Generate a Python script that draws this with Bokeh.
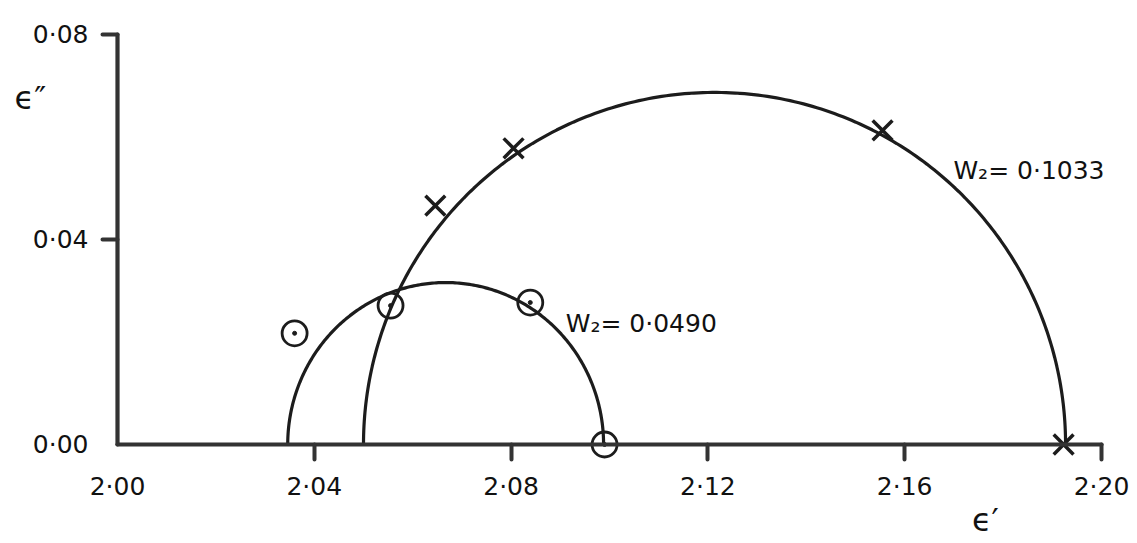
import numpy as np
from bokeh.plotting import figure
from bokeh.models import FixedTicker, Label, CustomJSTickFormatter
from bokeh.embed import file_html
from bokeh.resources import INLINE

# Axis ticks
x_ticks = [2.00, 2.04, 2.08, 2.12, 2.16, 2.20]
y_ticks = [0.00, 0.04, 0.08]

# Cole-Cole arcs: (eps_inf, eps_s, peak loss)
arc_w1033 = (2.0500, 2.1927, 0.0687)
arc_w0490 = (2.0346, 2.0988, 0.0316)

# Measured points, W2 = 0.1033
cross_x = [2.0646, 2.0805, 2.1555, 2.1923]
cross_y = [0.0466, 0.0578, 0.0613, 0.0000]

# Measured points, W2 = 0.0490
circ_x = [2.0360, 2.0555, 2.0839, 2.0990]
circ_y = [0.0217, 0.0271, 0.0277, 0.0000]

INK = "#1c1c1c"
AXIS = "#333333"
FONT = "DejaVu Sans"

p = figure(width=1137, height=543, x_range=(1.97622, 2.20732), y_range=(-0.019317, 0.086634),
           output_backend="svg", toolbar_location=None,
           min_border_left=0, min_border_right=0, min_border_top=0, min_border_bottom=0)
p.outline_line_color = None
p.grid.visible = False
p.background_fill_color = "white"
p.border_fill_color = "white"

fmt = CustomJSTickFormatter(code="return tick.toFixed(2).replace('.', '\u00b7');")
p.xaxis.ticker = FixedTicker(ticks=x_ticks, minor_ticks=x_ticks[1:])
p.yaxis.ticker = FixedTicker(ticks=y_ticks, minor_ticks=y_ticks[1:])
p.xaxis.bounds = (x_ticks[0], x_ticks[-1])
p.yaxis.bounds = (y_ticks[0], y_ticks[-1])
p.xaxis.fixed_location = y_ticks[0]
p.yaxis.fixed_location = x_ticks[0]
for ax in (p.xaxis[0], p.yaxis[0]):
    ax.formatter = fmt
    ax.axis_line_width = 4.2
    ax.axis_line_color = AXIS
    ax.axis_line_cap = "round"
    ax.major_tick_line_color = None
    ax.major_tick_out = 0
    ax.major_tick_in = 0
    ax.minor_tick_in = 0
    ax.minor_tick_out = 15
    ax.minor_tick_line_width = 4
    ax.minor_tick_line_color = AXIS
    ax.minor_tick_line_cap = "round"
    ax.major_label_text_font = FONT
    ax.major_label_text_font_size = "25px"
    ax.major_label_text_color = "#111111"
    ax.major_label_standoff = 14
p.xaxis.major_label_standoff = 12
p.yaxis.major_label_orientation = "horizontal"
p.yaxis.major_label_text_baseline = "alphabetic"


def arc_points(eps_inf, eps_s, peak, n=240):
    t = np.linspace(0.0, np.pi, n)
    c = 0.5 * (eps_inf + eps_s)
    r = 0.5 * (eps_s - eps_inf)
    return c + r * np.cos(t), peak * np.sin(t)


for arc in (arc_w1033, arc_w0490):
    ax_, ay_ = arc_points(*arc)
    p.line(ax_, ay_, line_color=INK, line_width=3.2)

p.scatter(cross_x, cross_y, marker="x", size=28, line_color=INK, line_width=3.5)
p.scatter(circ_x, circ_y, marker="circle", size=25, fill_color=None,
          line_color=INK, line_width=2.8)
p.scatter(circ_x, circ_y, marker="circle", size=4, fill_color=INK, line_color=INK)

p.add_layout(Label(x=2.1699, y=0.0535, text="W\u2082= 0\u00b71033", text_font=FONT,
                   text_font_size="25px", text_color="#111111", text_baseline="middle"))
p.add_layout(Label(x=2.0911, y=0.0236, text="W\u2082= 0\u00b70490", text_font=FONT,
                   text_font_size="25px", text_color="#111111", text_baseline="middle"))

# Axis titles
p.add_layout(Label(x=1.9823, y=0.0677, text="\u03f5\u2033",
                   text_font=FONT, text_font_size="32px", text_color="#111111",
                   text_align="center", text_baseline="middle"))
p.add_layout(Label(x=2.1764, y=-0.0148, text="\u03f5\u2032",
                   text_font=FONT, text_font_size="32px", text_color="#111111",
                   text_align="center", text_baseline="middle"))

open("out.html", "w").write(file_html(p, INLINE))
